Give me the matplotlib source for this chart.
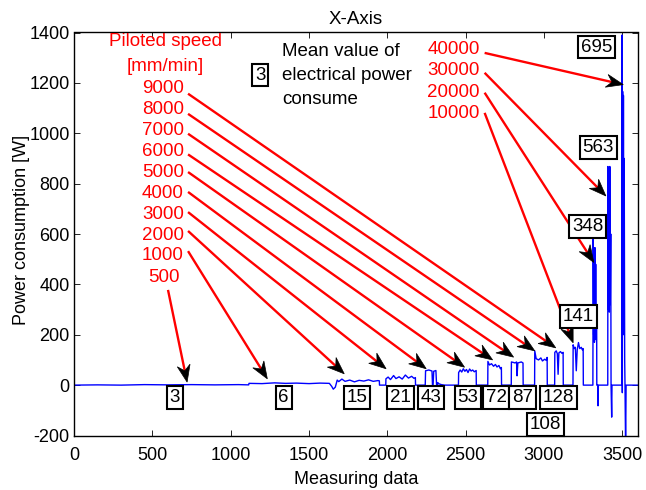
import matplotlib
matplotlib.use("Agg")
import matplotlib.pyplot as plt
import numpy as np
from matplotlib.patches import Polygon

plt.rcParams['font.family'] = ['Liberation Sans', 'DejaVu Sans']
plt.rcParams['axes.unicode_minus'] = False

# ---- signal (measured power) ----
sig_x = [0, 150, 300, 450, 600, 750, 900, 1050, 1115,
         1117, 1200, 1280, 1350, 1420, 1500, 1570, 1630,
         1645, 1655, 1668,
         1680, 1690, 1710, 1730, 1760, 1790, 1820, 1850, 1880, 1910, 1940, 1949, 1950,
         1990, 1991, 2005, 2020, 2040, 2055, 2075, 2095, 2115, 2135, 2155, 2170, 2179, 2180,
         2242, 2244, 2265, 2285, 2290, 2296, 2310, 2316, 2322, 2330, 2345, 2365,
         2454, 2455, 2465, 2475, 2485, 2495, 2505, 2515, 2525, 2535, 2545, 2555, 2567, 2568,
         2641, 2642, 2652, 2665, 2678, 2690, 2700, 2712, 2722, 2728, 2729,
         2791, 2792, 2805, 2815, 2825, 2828, 2833, 2845, 2855, 2866, 2867,
         2940, 2941, 2950, 2965, 2980, 2990, 3005, 3015, 3020, 3021,
         3068, 3069, 3078, 3085, 3090, 3095, 3105, 3115, 3122, 3123,
         3185, 3186, 3193, 3200, 3206, 3212, 3220, 3228, 3238, 3245, 3250, 3251,
         3312, 3314, 3317, 3320, 3322, 3325, 3328, 3330, 3333, 3336, 3337, 3343, 3345, 3347,
         3407, 3408, 3411, 3414, 3417, 3420, 3423, 3426, 3428, 3432, 3434,
         3497, 3498, 3500, 3502, 3505, 3507, 3510, 3512, 3515, 3517, 3521, 3524, 3600]
sig_y = [0, 1, 0, 2, 1, 2, 1, 2, 1,
         7, 6, 9, 7, 8, 6, 8, 7,
         -5, -16, -8,
         20, 14, 24, 15, 20, 13, 19, 16, 21, 15, 18, 17, 0,
         0, 25, 32, 22, 38, 26, 33, 24, 40, 28, 35, 27, 30, 0,
         0, 57, 60, 56, -30, 55, 58, -20, 10, 5, 2, 0,
         0, 50, 60, 52, 65, 55, 62, 50, 64, 56, 60, 53, 58, 0,
         0, 94, 80, 85, 75, 82, 72, 78, 65, 70, 0,
         0, 92, 90, 88, 92, 37, 88, 90, 92, 88, 0,
         0, 136, 105, 100, 108, 96, 103, 98, 110, 0,
         0, 130, 136, 125, 43, 128, 133, 126, 130, 0,
         0, 160, 145, 150, 57, 140, 169, 145, 150, 140, 145, 0,
         0, 591, 200, 520, 170, 546, 260, 480, 180, 300, 0, 0, -82, 0,
         0, 868, 300, 860, 290, 868, 320, 600, 0, -127, 0,
         0, 1390, -30, 1166, 400, 1150, 200, 900, 100, 0, -260, 0, 0]

# ---- annotations ----
speed_labels = ['9000', '8000', '7000', '6000', '5000', '4000', '3000', '2000', '1000']
speed_label_y = [1177, 1094, 1011, 929, 845, 762, 679, 596, 514]
speed_start_y = [1157, 1077, 998, 916, 846, 767, 687, 612, 532]
speed_tip_x = [3075, 2941, 2806, 2672, 2493, 2248, 1992, 1725, 1234]
speed_tip_y = [148, 136, 111, 100, 71, 65, 65, 45, 25]

high_labels = ['40000', '30000', '20000', '10000']
high_label_y = [1332, 1249, 1163, 1077]
high_start_y = [1319, 1240, 1161, 1081]
high_tip_x = [3506, 3395, 3318, 3186]
high_tip_y = [1193, 751, 487, 168]

mean_vals = ['3', '6', '15', '21', '43', '53', '72', '87', '128', '108', '141', '348', '563', '695']
mean_x = [643, 1338, 1805, 2083, 2278, 2515, 2694, 2864, 3094, 3008, 3219, 3280, 3347, 3334]
mean_y = [-50, -50, -50, -50, -50, -50, -50, -50, -50, -157, 272, 631, 944, 1342]

xticks = [0, 500, 1000, 1500, 2000, 2500, 3000, 3500]
yticks = [-200, 0, 200, 400, 600, 800, 1000, 1200, 1400]

fig = plt.figure(figsize=(6.46, 4.90), dpi=100)
ax = fig.add_axes([74 / 646, 1 - 435.5 / 490, (638 - 74) / 646, (435.5 - 32.5) / 490])
ax.plot(sig_x, sig_y, color=(0, 0, 1), lw=1.0)
ax.set_xlim(0, 3600)
ax.set_ylim(-200, 1400)
ax.set_xticks(xticks)
ax.set_yticks(yticks)
ax.tick_params(direction='in', length=4, width=0.6, top=True, right=True,
               labelsize=13, colors='black', pad=3)
ax.tick_params(axis='x', pad=8)
for s in ax.spines.values():
    s.set_linewidth(1.0)
ax.set_title('X-Axis', fontsize=13.5, pad=6)
ax.set_xlabel('Measuring data', fontsize=13, labelpad=5)
ax.set_ylabel('Power consumption [W]', fontsize=13)
ax.yaxis.label.set_va('center')
ax.yaxis.set_label_coords(-0.093, 0.51)

FS = 13.5
RED = (1, 0, 0)

def arrow(x0, y0, x1, y1):
    p0 = ax.transData.transform((x0, y0))
    p1 = ax.transData.transform((x1, y1))
    d = p1 - p0
    u = d / np.hypot(*d)
    n = np.array([-u[1], u[0]])
    L, W, notch = 17.0, 6.5, 5.5
    base = p1 - (L - notch) * u
    pts = [p1, p1 - L * u + W * n, base, p1 - L * u - W * n]
    inv = ax.transData.inverted()
    b = inv.transform(base)
    ax.plot([x0, b[0]], [y0, b[1]], color=RED, lw=1.7, solid_capstyle='butt', clip_on=False)
    ax.add_patch(Polygon(inv.transform(pts), closed=True, facecolor='black',
                         edgecolor='black', lw=0.5, clip_on=False, zorder=5))

fig.canvas.draw()

ax.text(581, 1365, 'Piloted speed', color=RED, fontsize=FS, ha='center', va='center')
ax.text(581, 1266, '[mm/min]', color=RED, fontsize=FS, ha='center', va='center')
for lab, ly, sy, tx, ty in zip(speed_labels, speed_label_y, speed_start_y, speed_tip_x, speed_tip_y):
    ax.text(701, ly, lab, color=RED, fontsize=FS, ha='right', va='center')
    arrow(728, sy, tx, ty)
ax.text(573, 429, '500', color=RED, fontsize=FS, ha='center', va='center')
arrow(600, 378, 722, 12)

for lab, ly, sy, tx, ty in zip(high_labels, high_label_y, high_start_y, high_tip_x, high_tip_y):
    ax.text(2589, ly, lab, color=RED, fontsize=FS, ha='right', va='center')
    arrow(2621, sy, tx, ty)

bbox = dict(boxstyle='square,pad=0.15', facecolor='white', edgecolor='black', lw=1.5)
for v, x, y in zip(mean_vals, mean_x, mean_y):
    ax.text(x, y, v, fontsize=FS, ha='center', va='center', bbox=bbox, zorder=6)

ax.text(1190, 1231, '3', fontsize=FS, ha='center', va='center', bbox=bbox, zorder=6)
ax.text(1328, 1325, 'Mean value of', fontsize=FS, ha='left', va='center')
ax.text(1328, 1229, 'electrical power', fontsize=FS, ha='left', va='center')
ax.text(1328, 1133, 'consume', fontsize=FS, ha='left', va='center')

fig.savefig('out.png', dpi=100)
